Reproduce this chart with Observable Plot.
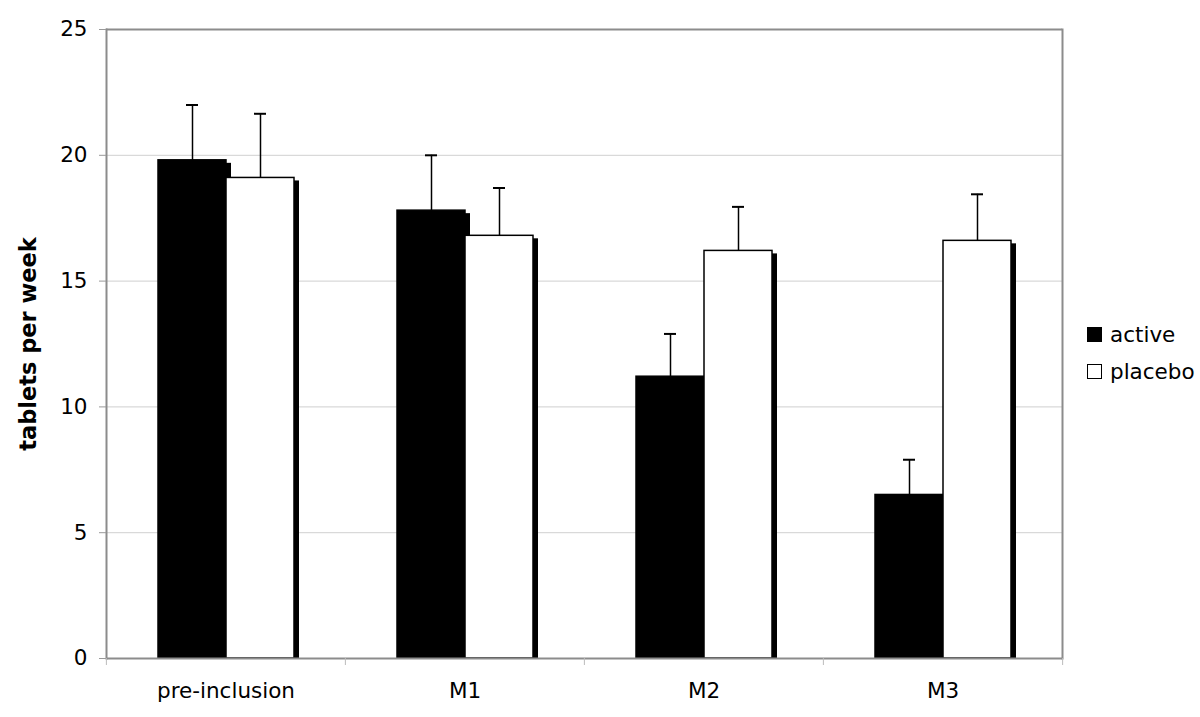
<!DOCTYPE html>
<html>
<head>
<meta charset="utf-8">
<script src="https://cdn.jsdelivr.net/npm/d3@7"></script>
<script src="https://cdn.jsdelivr.net/npm/@observablehq/plot@0.6"></script>
<style>
  html, body { margin: 0; padding: 0; background: #fff; }
  #wrap { position: relative; width: 1200px; height: 717px; font-family: "DejaVu Sans", Verdana, sans-serif; }
  #legend { position: absolute; left: 1087px; top: 316px; font-size: 21.5px; color: #000; line-height: 37px; }
  #legend .item { display: flex; align-items: center; white-space: nowrap; }
  #legend .sw { width: 15px; height: 15px; box-sizing: border-box; margin-right: 8px; border: 1.5px solid #000; }
  svg g[aria-label="y-axis label"] text { font-weight: bold; font-size: 22.5px; }
</style>
</head>
<body>
<div id="wrap"></div>
<script>
const categories = ["pre-inclusion", "M1", "M2", "M3"];
const series = ["active", "placebo"];
const seriesColors = ["black", "white"];
const activeMean = [19.8, 17.8, 11.2, 6.5];
const activeErr = [2.2, 2.2, 1.7, 1.4];
const placeboMean = [19.1, 16.8, 16.2, 16.6];
const placeboErr = [2.55, 1.9, 1.75, 1.85];
const yTicks = [0, 5, 10, 15, 20, 25];
const gridTicks = [5, 10, 15, 20];
const yLabel = "tablets per week";

const rows = categories.flatMap((c, i) => [
  {cat: c, series: series[0], value: activeMean[i], err: activeErr[i]},
  {cat: c, series: series[1], value: placeboMean[i], err: placeboErr[i]}
]);

const W = 1200, H = 717, mL = 105, mR = 138, mT = 29, mB = 59;
const bw = (W - mL - mR) / categories.length;

const chart = Plot.plot({
  width: W, height: H,
  marginLeft: mL, marginRight: mR, marginTop: mT, marginBottom: mB,
  style: {fontFamily: "DejaVu Sans, Verdana, sans-serif", fontSize: "21.5px", color: "black", background: "white", overflow: "visible"},
  fx: {domain: categories, padding: 0, label: null},
  x: {domain: series, paddingInner: 0, paddingOuter: 0.75, axis: null},
  y: {domain: [0, 25]},
  color: {domain: series, range: seriesColors},
  marks: [
    Plot.gridY({ticks: gridTicks, stroke: "#d9d9d9", strokeOpacity: 1, strokeWidth: 1.3}),
    // drop shadows
    Plot.barY(rows, {fx: "cat", x: "series", y: "value", fill: "black", dx: 5, dy: 3, insetBottom: 3}),
    // bars
    Plot.barY(rows, {fx: "cat", x: "series", y: "value", fill: "series", stroke: "black", strokeWidth: 1.5}),
    // error bars
    Plot.ruleX(rows, {fx: "cat", x: "series", y1: "value", y2: d => d.value + d.err, stroke: "black", strokeWidth: 1.5}),
    Plot.tickY(rows, {fx: "cat", x: "series", y: d => d.value + d.err, inset: 28, stroke: "black", strokeWidth: 2}),
    // frame
    Plot.ruleY([0, 25], {stroke: "#8c8c8c", strokeWidth: 2}),
    Plot.frame({anchor: "left", facetAnchor: "left", stroke: "#8c8c8c", strokeWidth: 2}),
    Plot.frame({anchor: "right", facetAnchor: "right", stroke: "#8c8c8c", strokeWidth: 2}),
    // axes
    Plot.axisY({ticks: yTicks, tickSize: 7, tickPadding: 12, stroke: "#999", fill: "black",
      label: yLabel, labelArrow: "none", labelAnchor: "center", labelOffset: 86, tickFormat: d => String(d)}),
    Plot.axisFx({anchor: "bottom", tickSize: 0, tickPadding: 24, label: null, fill: "black"}),
    Plot.axisFx({anchor: "bottom", tickSize: 7, tickFormat: () => "", label: null, stroke: "#bbb", dx: -bw / 2}),
    Plot.axisFx({anchor: "bottom", ticks: [categories[categories.length - 1]], tickSize: 7, tickFormat: () => "", label: null, stroke: "#bbb", dx: bw / 2})
  ]
});

const wrap = document.getElementById("wrap");
wrap.appendChild(chart);

const legend = document.createElement("div");
legend.id = "legend";
series.forEach((s, i) => {
  const item = document.createElement("div");
  item.className = "item";
  const sw = document.createElement("span");
  sw.className = "sw";
  sw.style.background = seriesColors[i];
  const label = document.createElement("span");
  label.textContent = s;
  item.appendChild(sw);
  item.appendChild(label);
  legend.appendChild(item);
});
wrap.appendChild(legend);
</script>
</body>
</html>
